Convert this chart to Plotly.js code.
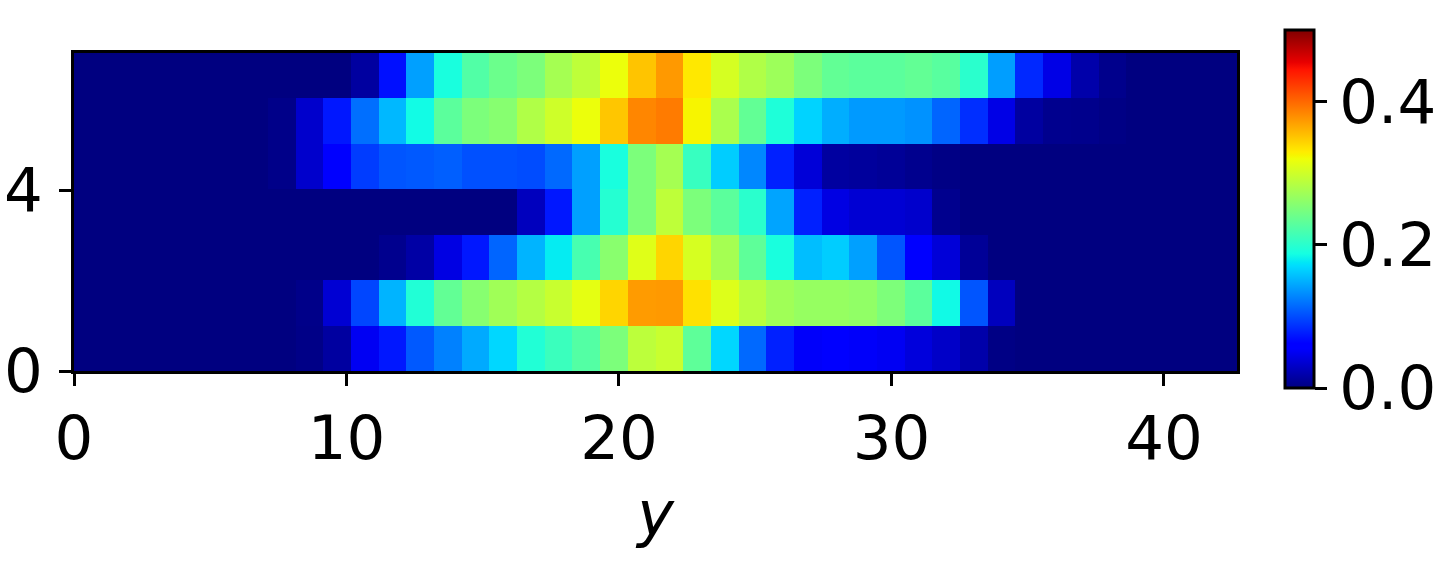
<!DOCTYPE html>
<html lang="en">
<head>
    <meta charset="UTF-8">
    <title>Heatmap</title>
    <script src="https://cdn.plot.ly/plotly-3.0.1.min.js"></script>
    <style>
        body { margin: 0; background: white; }
        #plot { width: 1442px; height: 580px; }
    </style>
</head>
<body>
    <div id="plot"></div>
    <script>
        // rows from bottom (0-1) to top (6-7), 42 columns each
        const row0 = [0, 0, 0, 0, 0, 0, 0, 0, 0.003, 0.014, 0.05, 0.074, 0.106, 0.126, 0.146, 0.168, 0.195, 0.21, 0.225, 0.25, 0.289, 0.296, 0.232, 0.168, 0.114, 0.078, 0.053, 0.058, 0.053, 0.05, 0.04, 0.031, 0.018, 0.002, 0, 0, 0, 0, 0, 0, 0, 0];
        const row1 = [0, 0, 0, 0, 0, 0, 0, 0, 0.004, 0.036, 0.097, 0.151, 0.195, 0.234, 0.257, 0.272, 0.284, 0.296, 0.314, 0.342, 0.373, 0.374, 0.336, 0.309, 0.287, 0.272, 0.266, 0.266, 0.263, 0.251, 0.23, 0.185, 0.104, 0.027, 0, 0, 0, 0, 0, 0, 0, 0];
        const row2 = [0, 0, 0, 0, 0, 0, 0, 0, 0, 0, 0, 0.006, 0.016, 0.043, 0.074, 0.112, 0.151, 0.178, 0.218, 0.258, 0.31, 0.342, 0.305, 0.275, 0.232, 0.19, 0.156, 0.163, 0.141, 0.104, 0.06, 0.038, 0.01, 0, 0, 0, 0, 0, 0, 0, 0, 0];
        const row3 = [0, 0, 0, 0, 0, 0, 0, 0, 0, 0, 0, 0, 0, 0, 0, 0, 0.027, 0.074, 0.141, 0.197, 0.25, 0.29, 0.25, 0.23, 0.2, 0.143, 0.078, 0.043, 0.036, 0.036, 0.033, 0.006, 0, 0, 0, 0, 0, 0, 0, 0, 0, 0];
        const row4 = [0, 0, 0, 0, 0, 0, 0, 0.004, 0.033, 0.062, 0.092, 0.104, 0.106, 0.109, 0.102, 0.102, 0.1, 0.114, 0.141, 0.19, 0.25, 0.275, 0.208, 0.163, 0.129, 0.078, 0.038, 0.014, 0.012, 0.01, 0.006, 0.002, 0, 0, 0, 0, 0, 0, 0, 0, 0, 0];
        const row5 = [0, 0, 0, 0, 0, 0, 0, 0.004, 0.033, 0.074, 0.117, 0.153, 0.186, 0.23, 0.25, 0.257, 0.282, 0.3, 0.318, 0.35, 0.384, 0.39, 0.325, 0.278, 0.234, 0.193, 0.166, 0.148, 0.138, 0.138, 0.134, 0.112, 0.085, 0.044, 0.014, 0.006, 0.005, 0.002, 0, 0, 0, 0];
        const row6 = [0, 0, 0, 0, 0, 0, 0, 0, 0, 0, 0.014, 0.07, 0.141, 0.19, 0.224, 0.24, 0.25, 0.275, 0.29, 0.318, 0.351, 0.374, 0.332, 0.304, 0.282, 0.27, 0.25, 0.234, 0.23, 0.23, 0.234, 0.228, 0.2, 0.14, 0.082, 0.044, 0.018, 0.005, 0, 0, 0, 0];

        const xTicks = [0, 10, 20, 30, 40];
        const yTicks = [0, 4];
        const cbTicks = [0, 0.2, 0.4];
        const cbLabels = ['0.0', '0.2', '0.4'];

        // image extent
        const xMax = 42.68;
        const yMax = 7.03;
        const zMax = 0.5;

        // matplotlib jet
        const jet = [
            [0, 'rgb(0,0,128)'], [0.11, 'rgb(0,0,255)'], [0.125, 'rgb(0,0,255)'],
            [0.34, 'rgb(0,219,255)'], [0.35, 'rgb(0,230,247)'], [0.375, 'rgb(21,255,226)'],
            [0.64, 'rgb(239,255,8)'], [0.65, 'rgb(247,245,0)'], [0.66, 'rgb(255,236,0)'],
            [0.89, 'rgb(255,19,0)'], [0.91, 'rgb(232,0,0)'], [1, 'rgb(128,0,0)']
        ];

        const z = [row0, row1, row2, row3, row4, row5, row6];
        const dx = xMax / row0.length;
        const dy = yMax / z.length;

        const trace = {
            type: 'heatmap',
            z: z,
            x0: dx / 2, dx: dx,
            y0: dy / 2, dy: dy,
            zmin: 0, zmax: zMax,
            colorscale: jet,
            hoverongaps: false,
            colorbar: {
                x: 1.041, xanchor: 'left', xref: 'paper',
                y: 0.509, yanchor: 'middle',
                len: 358, lenmode: 'pixels',
                thickness: 29,
                outlinewidth: 3, outlinecolor: 'black',
                xpad: 0, ypad: 0,
                ticks: 'outside', ticklen: 12, tickwidth: 3, tickcolor: 'black',
                tickvals: cbTicks, ticktext: cbLabels,
                tickfont: {family: 'DejaVu Sans', size: 61, color: 'black'}
            }
        };

        const axisStyle = {
            showline: true, linewidth: 3, linecolor: 'black', mirror: true,
            ticks: 'outside', ticklen: 12, tickwidth: 3, tickcolor: 'black',
            showgrid: false, zeroline: false,
            tickfont: {family: 'DejaVu Sans', size: 61, color: 'black'}
        };

        const layout = {
            width: 1442, height: 580,
            margin: {l: 74, r: 205, t: 53, b: 209, autoexpand: false},
            paper_bgcolor: 'white', plot_bgcolor: 'white',
            xaxis: Object.assign({}, axisStyle, {
                range: [0, xMax], tickmode: 'array', tickvals: xTicks,
                title: {text: '<i>y</i>', font: {family: 'DejaVu Sans', size: 62, color: 'black'}, standoff: 20}
            }),
            yaxis: Object.assign({}, axisStyle, {
                range: [0, yMax], tickmode: 'array', tickvals: yTicks,
                ticklabelstandoff: 4
            })
        };

        Plotly.newPlot('plot', [trace], layout, {displayModeBar: false, staticPlot: true});
    </script>
</body>
</html>
